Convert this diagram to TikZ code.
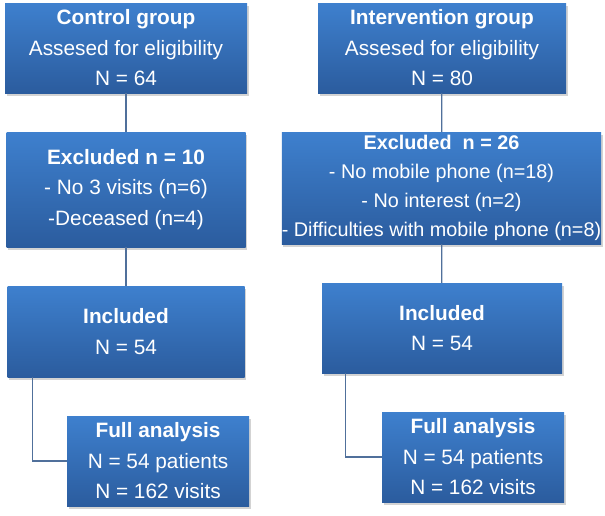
\documentclass[tikz,border=0pt]{standalone}
\usepackage{fontspec}
\setmainfont{Liberation Sans}
\usepackage{xcolor}
\usetikzlibrary{math,shadows}

\definecolor{boxtop}{RGB}{62,128,206}
\definecolor{boxbot}{RGB}{43,92,158}
\definecolor{linkcol}{RGB}{80,112,155}

\tikzset{
  flowbox/.style={draw=none, top color=boxtop, bottom color=boxbot, text=white,
    align=center, inner sep=0pt,
    drop shadow={opacity=0.35, shadow xshift=1.5pt, shadow yshift=-2.5pt},
    font=\fontsize{20.8}{30.5}\selectfont},
  link/.style={draw=linkcol, line width=1.3pt}
}

\begin{document}
\begin{tikzpicture}[x=1pt,y=-1pt]

\tikzmath{
\lx = 126;
\rx = 442;
}

\useasboundingbox (0,0) rectangle (605,515);

% control group
\node[flowbox, minimum width=242, minimum height=90] (ctrlA) at (\lx,48) {\textbf{Control group}\\Assesed for eligibility\\N = 64};
\node[flowbox, minimum width=239, minimum height=115] (ctrlB) at (\lx,189.5) {\textbf{Excluded n = 10}\\- No 3 visits (n=6)\\-Deceased (n=4)};
\node[flowbox, minimum width=237, minimum height=91] (ctrlC) at (\lx,331.5) {\textbf{Included}\\N = 54};
\node[flowbox, minimum width=182, minimum height=90] (ctrlD) at (158,461) {\textbf{Full analysis}\\N = 54 patients\\N = 162 visits};

% intervention group
\node[flowbox, minimum width=248, minimum height=90] (intvA) at (\rx,48) {\textbf{Intervention group}\\Assesed for eligibility\\N = 80};
\node[flowbox, minimum width=315, minimum height=112, font=\fontsize{19.8}{28.8}\selectfont] (intvB) at (441.5,188) {\textbf{Excluded\ \ n = 26}\\- No mobile phone (n=18)\\- No interest (n=2)\\- Difficulties with mobile phone (n=8)};
\node[flowbox, minimum width=240, minimum height=90] (intvC) at (\rx,328) {\textbf{Included}\\N = 54};
\node[flowbox, minimum width=182, minimum height=90] (intvD) at (473,457) {\textbf{Full analysis}\\N = 54 patients\\N = 162 visits};

\draw[link] (ctrlA) -- (ctrlB);
\draw[link] (ctrlB) -- (ctrlC);
\draw[link] ([xshift=25pt]ctrlC.south west) |- (ctrlD.west);

\draw[link] (intvA) -- (intvB);
\draw[link] (intvB) -- (intvC);
\draw[link] ([xshift=24pt]intvC.south west) |- (intvD.west);

\end{tikzpicture}
\end{document}
